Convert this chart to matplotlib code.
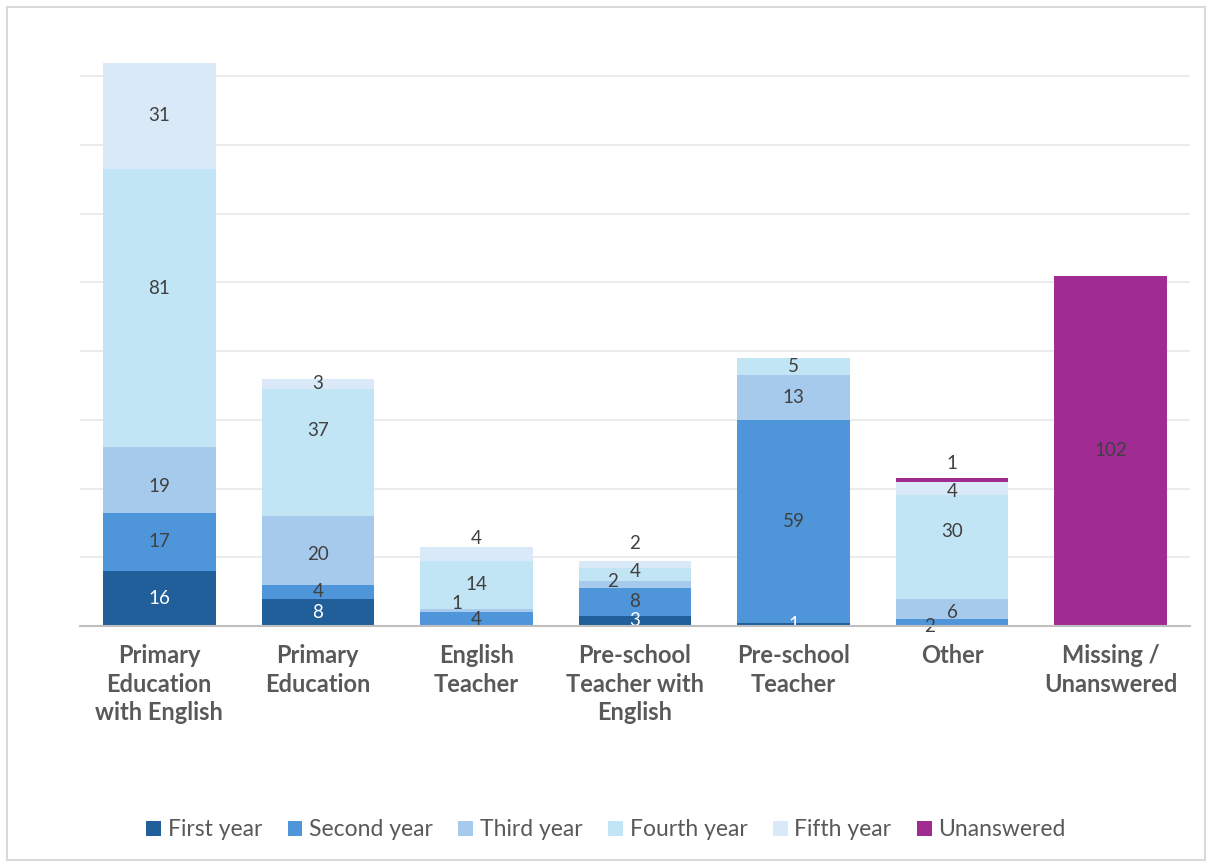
import matplotlib
matplotlib.use("Agg")
import matplotlib.pyplot as plt
from matplotlib.patches import Rectangle
import numpy as np

categories = ["Primary\nEducation\nwith English", "Primary\nEducation", "English\nTeacher",
              "Pre-school\nTeacher with\nEnglish", "Pre-school\nTeacher", "Other", "Missing /\nUnanswered"]
series_names = ["First year", "Second year", "Third year", "Fourth year", "Fifth year", "Unanswered"]
first_year = [16, 8, 0, 3, 1, 0, 0]
second_year = [17, 4, 4, 8, 59, 2, 0]
third_year = [19, 20, 1, 2, 13, 6, 0]
fourth_year = [81, 37, 14, 4, 5, 30, 0]
fifth_year = [31, 3, 4, 2, 0, 4, 0]
unanswered = [0, 0, 0, 0, 0, 1, 102]

series = [first_year, second_year, third_year, fourth_year, fifth_year, unanswered]
colors = ["#215F9A", "#4E95D9", "#A6CAEC", "#C1E5F5", "#DAE9F8", "#A02B93"]
label_colors = ["white", "#404040", "#404040", "#404040", "#404040", "#404040"]

# manual label offsets (points) to mimic the reference's label placement
offsets = {
    (2, 0): (0, -5), (3, 0): (0, 14),
    (2, 1): (0, -3), (3, 1): (0, 16),
    (1, 2): (0, 0), (2, 2): (-14, 5), (4, 2): (0, 11),
    (0, 3): (0, 0), (2, 3): (-16, 2), (3, 3): (0, 2), (4, 3): (0, 15),
    (0, 4): (0, 0),
    (1, 5): (-16, -3), (2, 5): (0, -3), (3, 5): (0, 11), (4, 5): (0, -2), (5, 5): (0, 12),
}

fig = plt.figure(figsize=(12.12, 8.65), dpi=100)
fig.patches.append(Rectangle((7/1212, 5/865), 1198/1212, 853/865, transform=fig.transFigure,
                             fill=False, edgecolor="#D9D9D9", linewidth=1.5))
ax = fig.add_axes([80/1212, (865-626)/865, 1110/1212, (626-42)/865])

x = np.arange(len(categories))
bottom = np.zeros(len(categories))
for si, (vals, name, col) in enumerate(zip(series, series_names, colors)):
    vals = np.array(vals, dtype=float)
    ax.bar(x, vals, width=0.71, bottom=bottom, color=col, label=name, zorder=2)
    for ci, v in enumerate(vals):
        if v > 0:
            dx, dy = offsets.get((si, ci), (0, 0))
            ax.annotate(f"{int(v)}", (x[ci], bottom[ci] + v / 2), xytext=(dx, dy),
                        textcoords="offset points", ha="center", va="center",
                        fontsize=13.5, color=label_colors[si], family="Lato", zorder=3)
    bottom += vals

ax.set_xlim(-0.5, len(categories) - 0.5)
ax.set_ylim(0, 170)
ax.set_yticks(np.arange(0, 161, 20))
ax.yaxis.grid(True, color="#E7E7E7", linewidth=1.2, zorder=0)
ax.tick_params(axis="y", left=False, labelleft=False)
ax.tick_params(axis="x", length=0, pad=13)
ax.set_xticks(x)
ax.set_xticklabels(categories, fontsize=17, fontweight="bold", color="#595959",
                   family="Lato", linespacing=1.3, va="top")
for s in ["top", "right", "left"]:
    ax.spines[s].set_visible(False)
ax.spines["bottom"].set_color("#BFBFBF")
ax.spines["bottom"].set_linewidth(1.5)
ax.spines["bottom"].set_zorder(4)

leg = fig.legend(loc="center", bbox_to_anchor=(0.5, 1 - 830/865), ncol=6, frameon=False,
                 prop={"family": "Lato", "size": 16.5}, handlelength=0.65, handleheight=0.65,
                 handletextpad=0.3, columnspacing=1.1)
for t in leg.get_texts():
    t.set_color("#595959")

fig.savefig("out.png", dpi=100)
